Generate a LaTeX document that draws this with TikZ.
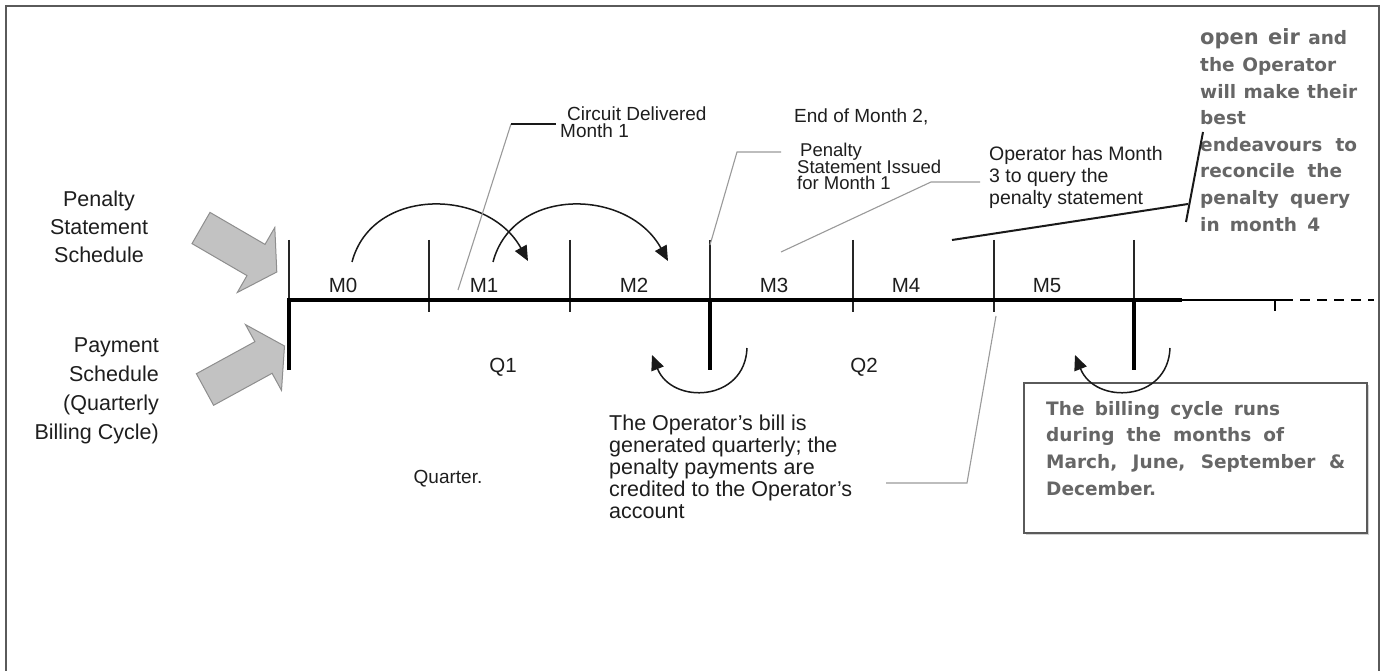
\documentclass[tikz,border=0pt]{standalone}
\usepackage{fontspec}
\setmainfont{Liberation Sans}
\newfontfamily\vfont{DejaVu Sans}
\usetikzlibrary{arrows.meta}
\definecolor{txtc}{HTML}{1E1E1E}
\definecolor{greytxt}{HTML}{666666}
\definecolor{arrfill}{HTML}{C2C2C2}
\definecolor{arredge}{HTML}{8E8E8E}
\definecolor{callgrey}{HTML}{9A9A9A}
\definecolor{framec}{HTML}{5A5A5A}
\newcommand{\fs}[2]{\fontsize{#1}{#2}\selectfont}
\newcommand{\tlL}[1]{\vtop{\lineskiplimit=-1000pt\relax\halign{##\hfil\cr#1\crcr}}}
\newcommand{\tlC}[1]{\vtop{\lineskiplimit=-1000pt\relax\halign{\hfil##\hfil\cr#1\crcr}}}
\newcommand{\tlR}[1]{\vtop{\lineskiplimit=-1000pt\relax\halign{\hfil##\cr#1\crcr}}}
\begin{document}
\begin{tikzpicture}[x=1pt,y=-1pt,
  txt/.style={inner sep=0pt, text=txtc},
  gtxt/.style={inner sep=0pt, text=greytxt, font=\vfont\bfseries},
  tickln/.style={line width=1.3pt, draw=black!85},
  axisln/.style={line width=4pt, draw=black, line join=miter},
  callg/.style={draw=callgrey, line width=1.1pt},
  callb/.style={draw=black!90, line width=2pt},
  blockarrow/.style={fill=arrfill, draw=arredge, line width=1pt, line join=miter},
  curvarrow/.style={line width=1.5pt, draw=black!90, -{Triangle[length=15pt,width=13pt]}},
  mlab/.style={txt, anchor=base, font=\fs{20.5}{24}}
]
\useasboundingbox (0,0) rectangle (1387,671);
\fill[white] (0,0) rectangle (1387,671);
% frame
\draw[line width=1.5pt, draw=framec] (6,671) |- (1379,6) -- (1379,671);

% timeline coordinates
\coordinate (t0) at (289,300);
\coordinate (t1) at (429,300);
\coordinate (t2) at (570,300);
\coordinate (t3) at (710,300);
\coordinate (t4) at (853,300);
\coordinate (t5) at (994,300);
\coordinate (t6) at (1134,300);
\coordinate (axend) at (1182,300);
\coordinate (t7) at (1275,300);
\coordinate (dashstart) at (1283,300);
\coordinate (dashend) at (1374,300);

% ticks above
\draw[tickln] (t0) ++(0,-60) -- (t0);
\draw[tickln] (t3) ++(0,-60) -- (t3);
\draw[tickln] (t6) ++(0,-60) -- (t6);
\foreach \t in {t1,t2,t4,t5}{\draw[tickln] (\t) ++(0,-60) -- ++(0,72);}
% main axis
\draw[axisln] (289,370) -- (t0) -- (axend);
\draw[axisln] (t3) -- ++(0,70);
\draw[axisln] (t6) -- ++(0,70);
\draw[line width=1.3pt] (axend) -- (t7) -- ++(0,11);
\draw[line width=1.3pt] (t7) -- (dashstart);
\draw[line width=1.5pt, dash pattern=on 10pt off 7pt] (dashstart) -- (dashend);

% month labels
\node[mlab] (m0) at (343,292) {M0};
\node[mlab] (m1) at (484,292) {M1};
\node[mlab] (m2) at (634,292) {M2};
\node[mlab] (m3) at (774,292) {M3};
\node[mlab] (m4) at (906,292) {M4};
\node[mlab] (m5) at (1047,292) {M5};
\node[mlab] (q1) at (503,372) {Q1};
\node[mlab] (q2) at (864,372) {Q2};
\node[txt, anchor=base, font=\fs{19}{22}] (quarter) at (448,483) {Quarter.};

% left labels
\node[txt, anchor=base] (pss) at (99,207) {\fs{21.5}{28}\tlC{Penalty\cr Statement\cr Schedule}};
\node[txt, anchor=base east] (pay) at (159,352) {\fs{21.5}{29}\tlR{Payment\cr Schedule\cr (Quarterly\cr Billing Cycle)}};

% grey block arrows
\draw[blockarrow] (210,212.4) -- (265,244.4) -- (274.8,227.5) -- (276.8,272) -- (237.3,292.5) -- (247,275.6) -- (192,243.6) -- cycle;
\draw[blockarrow] (196.4,373.7) -- (254.9,341.7) -- (245.5,324.6) -- (284.5,346) -- (281.5,390.4) -- (272.1,373.3) -- (213.6,405.3) -- cycle;

% curved arrows above
\coordinate (a1s) at (352,262); \coordinate (a1e) at (528,261);
\coordinate (a2s) at (493,262); \coordinate (a2e) at (668,261);
\draw[curvarrow] (a1s) .. controls (372,186) and (488,188) .. (a1e);
\draw[curvarrow] (a2s) .. controls (513,186) and (628,188) .. (a2e);
% curved arrows below
\coordinate (b1s) at (747,348); \coordinate (b1e) at (652,355);
\coordinate (b2s) at (1170,348); \coordinate (b2e) at (1075,355);

% billing box
\fill[gray!35] (1026,385) rectangle (1369,535);
\node[draw=framec, fill=white, line width=1.5pt, anchor=north west, minimum width=343pt, minimum height=150pt, inner sep=0pt] (bbox) at (1023,382) {};
\draw[curvarrow] (b1s) .. controls (745,402) and (672,405) .. (b1e);
\draw[curvarrow] (b2s) .. controls (1168,402) and (1095,405) .. (b2e);

\node[gtxt, anchor=base west] (btxt) at (1046,415) {\fs{18.5}{26.7}\tlL{%
\makebox[234pt][s]{The billing  cycle runs}\cr
\makebox[238pt][s]{during  the months  of}\cr
\makebox[299pt][s]{March,  June,  September  \&}\cr
December.}};

% bill text
\node[txt, anchor=base west] (bill) at (609,430) {\fs{21.5}{22}\tlL{The Operator’s bill is\cr generated quarterly; the\cr penalty payments are\cr credited to the Operator’s\cr account}};
\coordinate (c5a) at (996,316); \coordinate (c5b) at (967,483); \coordinate (c5c) at (886,483);
\draw[callg] (c5a) -- (c5b) -- (c5c);

% circuit delivered
\node[txt, anchor=base west] (cd) at (560,121) {\fs{19}{17}\tlL{\kern7pt Circuit Delivered\cr Month 1}};
\coordinate (c1a) at (458,290); \coordinate (c1b) at (511,124); \coordinate (c1c) at (556,124);
\draw[callg] (c1a) -- (c1b);
\draw[callb] (c1b) -- (c1c);

% end of month 2
\node[txt, anchor=base west] (eom) at (794,123) {\fs{19}{22}End of Month 2,};
\node[txt, anchor=base west] (psi) at (797,157) {\fs{18.5}{16.5}\tlL{\kern3pt Penalty\cr Statement Issued\cr for Month 1}};
\coordinate (c2a) at (710,245); \coordinate (c2b) at (737,152); \coordinate (c2c) at (781,152);
\draw[callg] (c2a) -- (c2b) -- (c2c);

% operator has month 3
\node[txt, anchor=base west] (ohm) at (989,161) {\fs{19.5}{22}\tlL{Operator has Month\cr 3 to query the\cr penalty statement}};
\coordinate (c3a) at (781,252); \coordinate (c3b) at (931,182); \coordinate (c3c) at (980,182);
\draw[callg] (c3a) -- (c3b) -- (c3c);

% open eir text
\node[gtxt, anchor=base west] (oeir) at (1200,45) {\fs{18.5}{26.6}\tlL{%
\makebox[147pt][s]{{\fs{21}{26.6}open eir} and}\cr
\makebox[136pt][s]{the Operator}\cr
\makebox[157pt][s]{will make their}\cr
best\cr
\makebox[157pt][s]{endeavours  to}\cr
\makebox[142pt][s]{reconcile  the}\cr
\makebox[150pt][s]{penalty  query}\cr
\makebox[120pt][s]{in month  4}}};
\coordinate (c4a) at (952,240); \coordinate (c4b) at (1188,204);
\coordinate (c4c) at (1186,222); \coordinate (c4d) at (1203,132);
\draw[callb] (c4a) -- (c4b);
\draw[callb] (c4c) -- (c4d);
\end{tikzpicture}
\end{document}
